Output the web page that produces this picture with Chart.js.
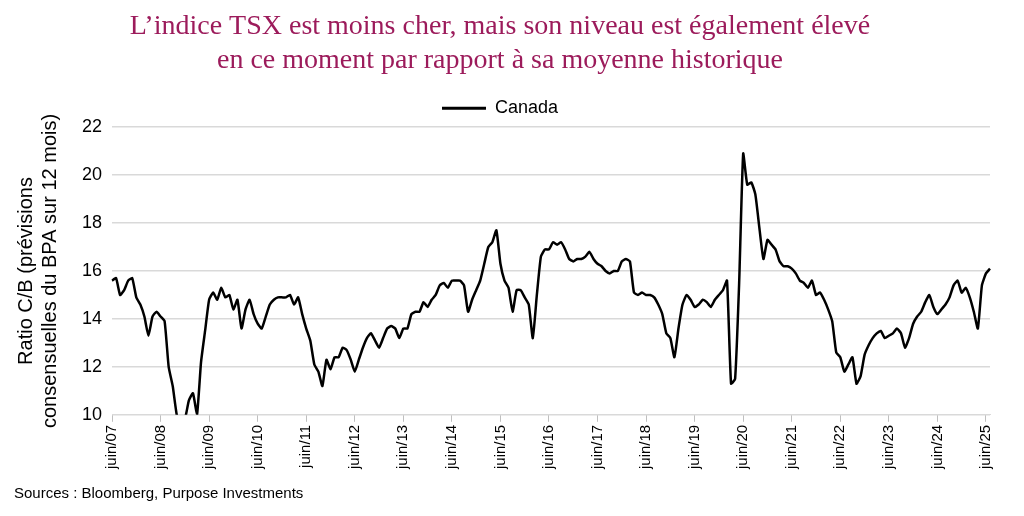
<!DOCTYPE html>
<html><head><meta charset="utf-8">
<script src="https://cdn.jsdelivr.net/npm/chart.js@4.4.1/dist/chart.umd.min.js"></script>
<style>
body{margin:0;background:#fff;width:1024px;height:516px;overflow:hidden;position:relative;font-family:"Liberation Sans",Arial,sans-serif}
#src{position:absolute;left:14px;top:484px;font-size:15px;color:#000}
</style></head><body>
<canvas id="c" width="1024" height="516"></canvas>
<div id="src">Sources : Bloomberg, Purpose Investments</div>
<script>
const yearLabels=["07","08","09","10","11","12","13","14","15","16","17","18","19","20","21","22","23","24","25"];
const monthNames=["juin","juil","août","sept","oct","nov","déc","janv","févr","mars","avr","mai"];
// Monthly P/E values, Jun 2007 – Jul 2025
const canada=[
15.6,15.7,15.0,15.2,15.6,15.7,14.9,14.6,14.1,13.3,14.1,14.3,
14.1,13.9,12.0,11.2,10.0,9.6,9.8,10.6,10.9,10.0,12.2,13.5,
14.8,15.1,14.8,15.3,14.9,15.0,14.4,14.8,13.6,14.4,14.8,14.2,
13.8,13.6,14.1,14.6,14.8,14.9,14.9,14.9,15.0,14.6,14.9,14.2,
13.6,13.1,12.1,11.8,11.2,12.3,11.9,12.4,12.4,12.8,12.7,12.3,
11.8,12.3,12.8,13.2,13.4,13.1,12.8,13.2,13.6,13.7,13.6,13.2,
13.6,13.6,14.2,14.3,14.3,14.7,14.5,14.8,15.0,15.4,15.5,15.3,
15.6,15.6,15.6,15.4,14.3,14.8,15.2,15.6,16.3,17.0,17.2,17.7,
16.3,15.6,15.3,14.3,15.2,15.2,14.9,14.6,13.2,15.0,16.6,16.9,
16.9,17.2,17.1,17.2,16.9,16.5,16.4,16.5,16.5,16.6,16.8,16.5,
16.3,16.2,16.0,15.9,16.0,16.0,16.4,16.5,16.4,15.1,15.0,15.1,
15.0,15.0,14.9,14.6,14.2,13.4,13.2,12.4,13.6,14.6,15.0,14.8,
14.5,14.6,14.8,14.7,14.5,14.8,15.0,15.2,15.6,11.3,11.5,15.5,
20.9,19.6,19.7,19.2,17.8,16.5,17.3,17.1,16.9,16.4,16.2,16.2,
16.1,15.9,15.6,15.5,15.3,15.6,15.0,15.1,14.8,14.4,13.9,12.6,
12.4,11.8,12.1,12.4,11.3,11.6,12.5,12.9,13.2,13.4,13.5,13.2,
13.3,13.4,13.6,13.4,12.8,13.2,13.8,14.1,14.3,14.7,15.0,14.5,
14.2,14.4,14.6,14.9,15.4,15.6,15.1,15.3,14.9,14.3,13.6,15.4,
15.9,16.1];
const labels=[];
for(let i=0;i<canada.length;i++){
  const y=yearLabels[Math.floor((i+5)/12)]||"26";
  labels.push(monthNames[i%12]+"/"+y);
}
new Chart(document.getElementById("c"),{
  type:"line",
  data:{labels:labels,datasets:[{label:"Canada",data:canada,borderColor:"#000",borderWidth:2.5,pointRadius:0,tension:0.15,fill:false}]},
  options:{
    responsive:false,animation:false,
    layout:{padding:{left:10,right:34,top:8,bottom:44}},
    plugins:{
      title:{display:true,text:["L’indice TSX est moins cher, mais son niveau est également élevé","en ce moment par rapport à sa moyenne historique"],
        color:"#9c1b5b",font:{family:"'Liberation Serif','Times New Roman',serif",size:28,weight:"normal",lineHeight:1.2},padding:{top:2,bottom:8}},
      legend:{display:true,labels:{color:"#000",font:{family:"'Liberation Sans',Arial",size:18},boxWidth:44,boxHeight:0,padding:14,
        generateLabels:(ch)=>[{text:"Canada",strokeStyle:"#000",fillStyle:"#000",lineWidth:3,datasetIndex:0}]}},
      tooltip:{enabled:false}
    },
    scales:{
      x:{grid:{drawOnChartArea:false,tickLength:7,color:(c)=>c.index%12===0?"#bfbfbf":"rgba(0,0,0,0)"},
        border:{color:"#d9d9d9"},
        ticks:{autoSkip:false,maxRotation:90,minRotation:90,color:"#000",font:{family:"'Liberation Sans',Arial",size:15},
          callback:function(v,i){return i%12===0?this.getLabelForValue(v):"";}}},
      y:{min:10,max:22,ticks:{stepSize:2,color:"#000",font:{family:"'Liberation Sans',Arial",size:18},padding:10},
        grid:{color:"#d9d9d9",drawTicks:false,lineWidth:1.5},border:{display:false},
        title:{display:true,text:["Ratio C/B (prévisions","consensuelles du BPA sur 12 mois)"],color:"#000",font:{family:"'Liberation Sans',Arial",size:20},padding:{bottom:10}}}
    }
  }
});
</script></body></html>
